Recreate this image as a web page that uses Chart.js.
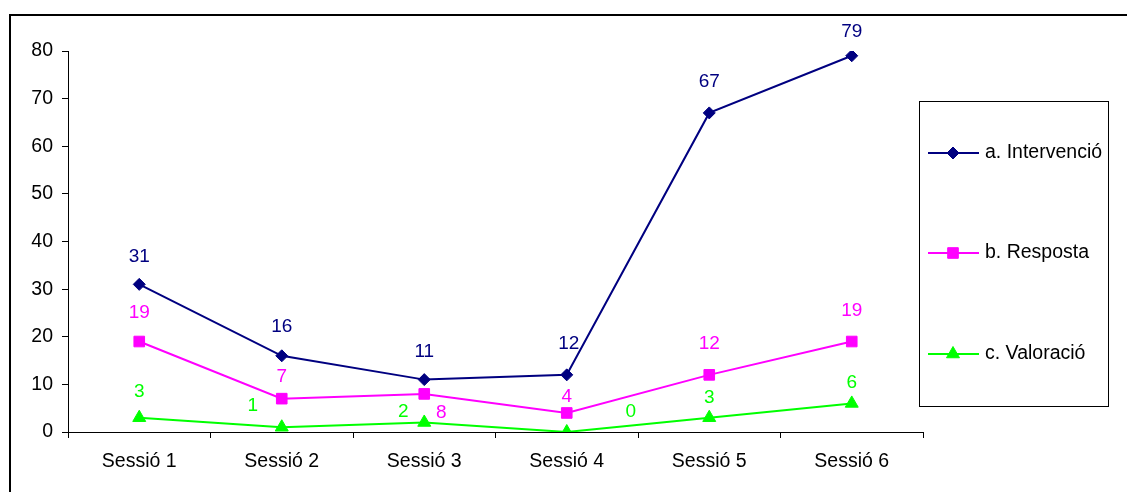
<!DOCTYPE html>
<html>
<head>
<meta charset="utf-8">
<script src="https://cdn.jsdelivr.net/npm/chart.js@4.4.1/dist/chart.umd.min.js"></script>
<style>
  html, body { margin:0; padding:0; background:#fff; overflow:hidden; width:1127px; height:492px; }
  #frame { position:absolute; left:9px; top:14px; width:2000px; height:2000px; border-top:2px solid #000; border-left:2px solid #000; }
  #c { position:absolute; left:0; top:0; }
</style>
</head>
<body>
<div id="frame"></div>
<canvas id="c" width="1127" height="492"></canvas>
<script>
// ---- data ----
const categories = ['Sessió 1', 'Sessió 2', 'Sessió 3', 'Sessió 4', 'Sessió 5', 'Sessió 6'];
const seriesNames = ['a. Intervenció', 'b. Resposta', 'c. Valoració'];
const intervencio = [31, 16, 11, 12, 67, 79];
const resposta = [19, 7, 8, 4, 12, 19];
const valoracio = [3, 1, 2, 0, 3, 6];
const yTicks = [0, 10, 20, 30, 40, 50, 60, 70, 80];

// ---- styles ----
const FONT = "'Liberation Sans', Arial, sans-serif";
const colors = ['#000080', '#FF00FF', '#00FF00'];
const pointStyles = ['rectRot', 'rect', 'triangle'];
const pointRadii = [6, 7.5, 7.5];
// per-point label offsets (dx, dy) relative to the point, mimicking the original placement
const labelOffsets = [
  [[0,-28],[0,-29],[0,-28],[2,-31],[0,-31],[0,-24]],
  [[0,-29],[0,-22],[17,19],[0,-16],[0,-31],[0,-31]],
  [[0,-26],[-29,-21],[-21,-11],[64,-20],[0,-20],[0,-21]]
];

const seriesValues = [intervencio, resposta, valoracio];

const datasets = seriesValues.map((vals, i) => ({
  label: seriesNames[i],
  data: vals,
  borderColor: colors[i],
  backgroundColor: colors[i],
  borderWidth: 2,
  pointStyle: pointStyles[i],
  pointRadius: pointRadii[i],
  pointHoverRadius: pointRadii[i],
  pointBorderWidth: 1,
  pointBorderColor: colors[i],
  pointBackgroundColor: colors[i],
  tension: 0,
  fill: false
}));

const labelPlugin = {
  id: 'valueLabels',
  afterDatasetsDraw(chart) {
    const ctx = chart.ctx;
    ctx.save();
    ctx.font = '19px ' + FONT;
    ctx.textAlign = 'center';
    ctx.textBaseline = 'middle';
    chart.data.datasets.forEach((ds, di) => {
      const meta = chart.getDatasetMeta(di);
      meta.data.forEach((pt, i) => {
        const off = labelOffsets[di][i];
        ctx.fillStyle = colors[di];
        ctx.fillText(String(ds.data[i]), pt.x + off[0], pt.y + off[1]);
      });
    });
    ctx.restore();
  }
};

const legendPlugin = {
  id: 'boxLegend',
  afterDraw(chart) {
    const ctx = chart.ctx;
    ctx.save();
    ctx.strokeStyle = '#000';
    ctx.lineWidth = 1;
    ctx.strokeRect(919.5, 101.5, 189, 305);
    const ys = [153, 253, 354];
    ctx.font = '19.5px ' + FONT;
    ctx.textBaseline = 'middle';
    ctx.textAlign = 'left';
    seriesNames.forEach((name, i) => {
      const y = ys[i];
      ctx.strokeStyle = colors[i];
      ctx.lineWidth = 2;
      ctx.beginPath();
      ctx.moveTo(928, y);
      ctx.lineTo(979, y);
      ctx.stroke();
      ctx.fillStyle = colors[i];
      ctx.strokeStyle = colors[i];
      ctx.lineWidth = 1;
      Chart.helpers.drawPoint(ctx, { pointStyle: pointStyles[i], radius: pointRadii[i], borderWidth: 1, rotation: 0 }, 953, y);
      ctx.fillStyle = '#000';
      ctx.fillText(name, 985, y);
    });
    ctx.restore();
  }
};

new Chart(document.getElementById('c'), {
  type: 'line',
  data: { labels: categories, datasets },
  plugins: [labelPlugin, legendPlugin],
  options: {
    responsive: false,
    animation: false,
    devicePixelRatio: 1,
    layout: { padding: { top: 51, right: 204, left: 0, bottom: 0 } },
    plugins: {
      legend: { display: false },
      tooltip: { enabled: false },
      title: { display: false }
    },
    scales: {
      x: {
        type: 'category',
        offset: true,
        afterFit(scale) { scale.height = 60; },
        grid: { offset: true, drawOnChartArea: false, drawTicks: true, tickLength: 6, color: '#000' },
        border: { display: true, color: '#000', width: 1 },
        ticks: { color: '#000', font: { family: FONT, size: 19.5 }, padding: 12, maxRotation: 0, autoSkip: false }
      },
      y: {
        min: 0,
        max: 80,
        afterFit(scale) { scale.width = 68; },
        afterBuildTicks(scale) { scale.ticks = yTicks.map(v => ({ value: v })); },
        grid: { drawOnChartArea: false, drawTicks: true, tickLength: 6, color: '#000' },
        border: { display: true, color: '#000', width: 1 },
        ticks: { color: '#000', font: { family: FONT, size: 19.5 }, padding: 9 }
      }
    }
  }
});
</script>
</body>
</html>
